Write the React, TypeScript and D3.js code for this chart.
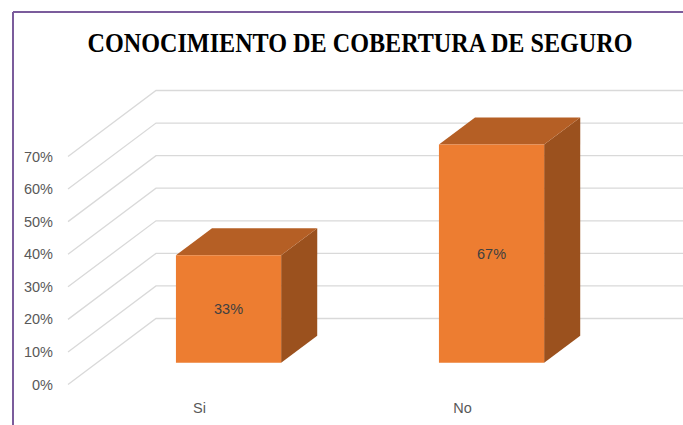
import React from "react";
import * as d3 from "d3";

const categories = ["Si", "No"];
const values = [0.33, 0.67];
const dataLabels = ["33%", "67%"];
const tickValues = [0, 0.1, 0.2, 0.3, 0.4, 0.5, 0.6, 0.7];
const title = "CONOCIMIENTO DE COBERTURA DE SEGURO";

const W = 683;
const H = 425;
const DX = 88;
const DY = -66;
const Z0 = 0.33;
const Z1 = 0.74;

export default function App() {
  const y = d3.scaleLinear().domain([0, 0.7]).range([384.5, 156.5]);
  const x = d3.scaleBand<string>().domain(categories).range([68, 594]).padding(0);
  const fmt = d3.format(".0%");
  const p = (px: number, v: number, z: number) => [px + z * DX, y(v) + z * DY];
  const pts = (arr: number[][]) => arr.map((a) => a.join(",")).join(" ");

  return (
    <svg
      width={W}
      height={H}
      style={{ position: "absolute", left: 0, top: 0, background: "#fff" }}
    >
      <rect x={0} y={0} width={W} height={H} fill="#fff" />
      {/* frame */}
      <line x1={13} y1={12} x2={W} y2={12} stroke="#7b5c9c" strokeWidth={2} />
      <line x1={13} y1={12} x2={13} y2={H} stroke="#7b5c9c" strokeWidth={2} />
      <g transform="translate(360,52) scale(1,1.12)">
        <text
          x={0}
          y={0}
          textAnchor="middle"
          fontFamily="'Liberation Serif', 'DejaVu Serif', serif"
          fontWeight="bold"
          fontSize={25}
          textLength={545}
          lengthAdjust="spacingAndGlyphs"
          fill="#000"
        >
          {title}
        </text>
      </g>
      {/* gridlines */}
      {tickValues.map((t) => {
        const a = p(68, t, 0);
        const b = p(68, t, 1);
        return (
          <g key={t}>
            <polyline
              points={pts([a, b, [W, b[1]]])}
              fill="none"
              stroke="#d9d9d9"
              strokeWidth={1.3}
            />
            <text
              x={53}
              y={a[1]}
              dy="0.35em"
              textAnchor="end"
              fontFamily="'Liberation Sans', Arial, sans-serif"
              fontSize={14.5}
              fill="#595959"
            >
              {fmt(t)}
            </text>
          </g>
        );
      })}
      {/* bars */}
      {categories.map((c, i) => {
        const bw = x.bandwidth() * 0.4;
        const cx = (x(c) as number) + x.bandwidth() / 2;
        const x0 = cx - bw / 2;
        const x1 = cx + bw / 2;
        const v = values[i];
        const front = [p(x0, 0, Z0), p(x1, 0, Z0), p(x1, v, Z0), p(x0, v, Z0)];
        const top = [p(x0, v, Z0), p(x1, v, Z0), p(x1, v, Z1), p(x0, v, Z1)];
        const side = [p(x1, 0, Z0), p(x1, 0, Z1), p(x1, v, Z1), p(x1, v, Z0)];
        const fc = p(cx, v / 2, Z0);
        return (
          <g key={c}>
            <polygon points={pts(side)} fill="#9b511e" />
            <polygon points={pts(top)} fill="#b55f25" />
            <polygon points={pts(front)} fill="#ed7d31" />
            <text
              x={fc[0]}
              y={fc[1]}
              dy="0.35em"
              textAnchor="middle"
              fontFamily="'Liberation Sans', Arial, sans-serif"
              fontSize={14.5}
              fill="#404040"
            >
              {dataLabels[i]}
            </text>
            <text
              x={cx}
              y={408}
              dy="0.35em"
              textAnchor="middle"
              fontFamily="'Liberation Sans', Arial, sans-serif"
              fontSize={14.5}
              fill="#595959"
            >
              {c}
            </text>
          </g>
        );
      })}
    </svg>
  );
}
